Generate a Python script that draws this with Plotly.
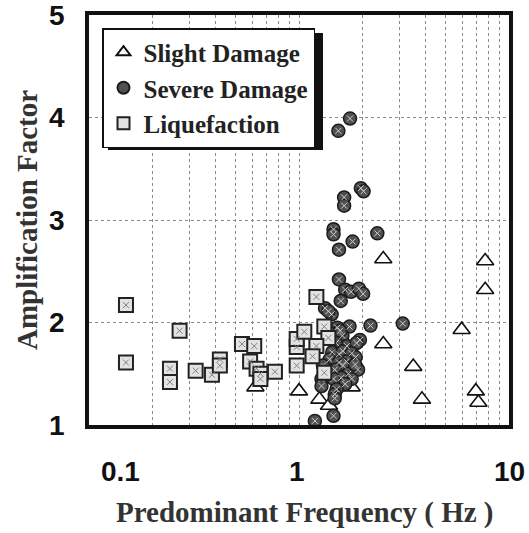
import math
import plotly.graph_objects as go

# ---- data ----
slight_x = [2.52, 7.7, 7.7, 5.95, 2.52, 3.5, 3.85, 6.95, 7.15, 1.78, 1.82, 1.0, 0.62, 1.25, 1.39, 1.56]
slight_y = [2.62, 2.60, 2.32, 1.93, 1.79, 1.57, 1.25, 1.33, 1.22, 1.37, 1.70, 1.33, 1.37, 1.25, 1.19, 0.97]

severe_x = [1.75, 1.54, 1.97, 2.03, 1.64, 1.64, 1.46, 1.46, 1.80, 2.36, 1.55,
            1.55, 1.66, 1.77, 1.93, 2.02, 1.58, 1.33, 1.43, 1.38,
            1.52, 1.74, 2.19, 3.12, 1.61, 1.95, 1.40, 1.69, 1.50, 1.88,
            1.44, 1.55, 1.62, 1.78, 1.86, 1.68, 1.40, 1.55, 1.62, 1.36, 1.48, 1.72, 1.91,
            1.78, 1.59, 1.46, 1.66, 1.28, 1.28, 1.51, 1.48, 1.48, 1.46, 1.19, 1.30, 1.85, 1.57]
severe_y = [3.99, 3.87, 3.31, 3.28, 3.22, 3.14, 2.91, 2.86, 2.79, 2.87, 2.71,
            2.42, 2.32, 2.30, 2.33, 2.28, 2.21, 2.14, 2.08, 2.11,
            1.95, 1.96, 1.97, 1.99, 1.87, 1.83, 1.90, 1.77, 1.80, 1.80,
            1.71, 1.69, 1.72, 1.70, 1.66, 1.62, 1.64, 1.61, 1.58, 1.54, 1.54, 1.50, 1.54,
            1.45, 1.46, 1.45, 1.40, 1.45, 1.38, 1.35, 1.30, 1.26, 1.09, 1.04, 1.58, 1.59, 1.92]

liq_x = [0.150, 0.150, 0.270, 0.243, 0.243, 0.322, 0.385, 0.42, 0.42, 0.535, 0.612, 0.585, 0.628,
         0.655, 0.655, 0.768, 0.975, 0.975, 0.975, 1.06, 1.21, 1.32, 1.38, 1.21, 1.16, 1.32]
liq_y = [2.17, 1.61, 1.92, 1.55, 1.42, 1.53, 1.49, 1.64, 1.58, 1.79, 1.77, 1.62, 1.55,
         1.50, 1.45, 1.52, 1.76, 1.58, 1.84, 1.91, 2.25, 1.96, 1.85, 1.77, 1.67, 1.51]

series_names = ["Slight Damage", "Severe Damage", "Liquefaction"]
x_tick_vals = [0.1, 1, 10]
x_tick_text = ["0.1", "1", "10"]
x_grid_vals = [0.2, 0.3, 0.4, 0.5, 0.6, 0.7, 0.8, 0.9, 1, 2, 3, 4, 5, 6, 7, 8, 9]
y_tick_vals = [1, 2, 3, 4, 5]
y_tick_text = ["1", "2", "3", "4", "5"]
x_title = "Predominant Frequency ( Hz )"
y_title = "Amplification Factor"

SERIF = "Liberation Serif"
SANS = "Liberation Sans"
L, R, T, B = 89, 20, 15, 108
W, H = 529, 533
PW, PH = W - L - R, H - T - B


def px_x(p):
    return (p - L) / PW


def px_y(p):
    return (H - B - p) / PH


fig = go.Figure()

fig.add_trace(go.Scatter(
    x=slight_x, y=slight_y, mode="markers", name=series_names[0], legendgroup="a",
    cliponaxis=False,
    marker=dict(symbol="triangle-up", size=15, color="white", line=dict(color="#111", width=1.6)),
))
fig.add_trace(go.Scatter(
    x=severe_x, y=severe_y, mode="markers", name=series_names[1], legendgroup="b",
    cliponaxis=False,
    marker=dict(symbol="circle", size=13, color="#505050", line=dict(color="#1c1c1c", width=1.5)),
))
fig.add_trace(go.Scatter(
    x=severe_x, y=severe_y, mode="markers", showlegend=False, hoverinfo="skip",
    cliponaxis=False,
    marker=dict(symbol="x-thin-open", size=6, color="#cfcfcf", line=dict(color="#cfcfcf", width=1)),
))
fig.add_trace(go.Scatter(
    x=liq_x, y=liq_y, mode="markers", name=series_names[2], legendgroup="c",
    cliponaxis=False,
    marker=dict(symbol="square", size=14, color="#e2e2e2", line=dict(color="#222", width=2)),
))
fig.add_trace(go.Scatter(
    x=liq_x, y=liq_y, mode="markers", showlegend=False, hoverinfo="skip",
    cliponaxis=False,
    marker=dict(symbol="x-thin-open", size=6, color="#808080", line=dict(color="#808080", width=1)),
))

# x tick labels (0.1 label sits right of the frame in the reference)
shifts = [31, -2, 0]
for v, t, s in zip(x_tick_vals, x_tick_text, shifts):
    fig.add_annotation(x=math.log10(v), xref="x", y=px_y(471), yref="paper",
                       text=t, showarrow=False, xshift=s, yanchor="middle",
                       font=dict(family=SANS, size=28, color="#111", weight="bold"))

# y tick labels
for v, t in zip(y_tick_vals, y_tick_text):
    fig.add_annotation(x=px_x(67), xref="paper", y=v, yref="y", text=t, showarrow=False,
                       xanchor="right", yanchor="middle",
                       font=dict(family=SANS, size=28, color="#111", weight="bold"))

# axis titles
fig.add_annotation(x=px_x(305), xref="paper", y=px_y(512), yref="paper", text=x_title,
                   showarrow=False, xanchor="center", yanchor="middle",
                   font=dict(family=SERIF, size=29, color="#333", weight="bold"))
fig.add_annotation(x=px_x(27), xref="paper", y=px_y(220), yref="paper", text=y_title,
                   showarrow=False, textangle=-90, xanchor="center", yanchor="middle",
                   font=dict(family=SERIF, size=29, color="#333", weight="bold"))

# legend shadow
fig.add_shape(type="rect", xref="paper", yref="paper",
              x0=px_x(108), x1=px_x(323),
              y0=px_y(150), y1=px_y(33),
              fillcolor="#111", line=dict(width=0), layer="above")

fig.update_layout(
    width=W, height=H,
    margin=dict(l=L, r=R, t=T, b=B, autoexpand=False),
    paper_bgcolor="white", plot_bgcolor="white",
    showlegend=True,
    legend=dict(x=px_x(102), y=px_y(28), xanchor="left", yanchor="top",
                bgcolor="white", bordercolor="#111", borderwidth=1.5,
                font=dict(family=SERIF, size=25, color="#222", weight="bold"),
                tracegroupgap=0, itemsizing="constant"),
    xaxis=dict(type="log", range=[-1, 1], tickvals=x_grid_vals, showticklabels=False,
               ticks="", showgrid=True, gridcolor="#8a8a8a", griddash="dot", gridwidth=1,
               showline=True, linecolor="#111", linewidth=4, mirror=True, zeroline=False,
               automargin=False),
    yaxis=dict(range=[1, 5], tickvals=y_tick_vals, showticklabels=False, ticks="",
               showgrid=True, gridcolor="#8a8a8a", griddash="dot", gridwidth=1,
               showline=True, linecolor="#111", linewidth=4, mirror=True, zeroline=False,
               automargin=False),
)

fig.write_html("out.html", config={"displayModeBar": False},
               post_script="document.body.style.margin='0';document.body.style.overflow='hidden';")
